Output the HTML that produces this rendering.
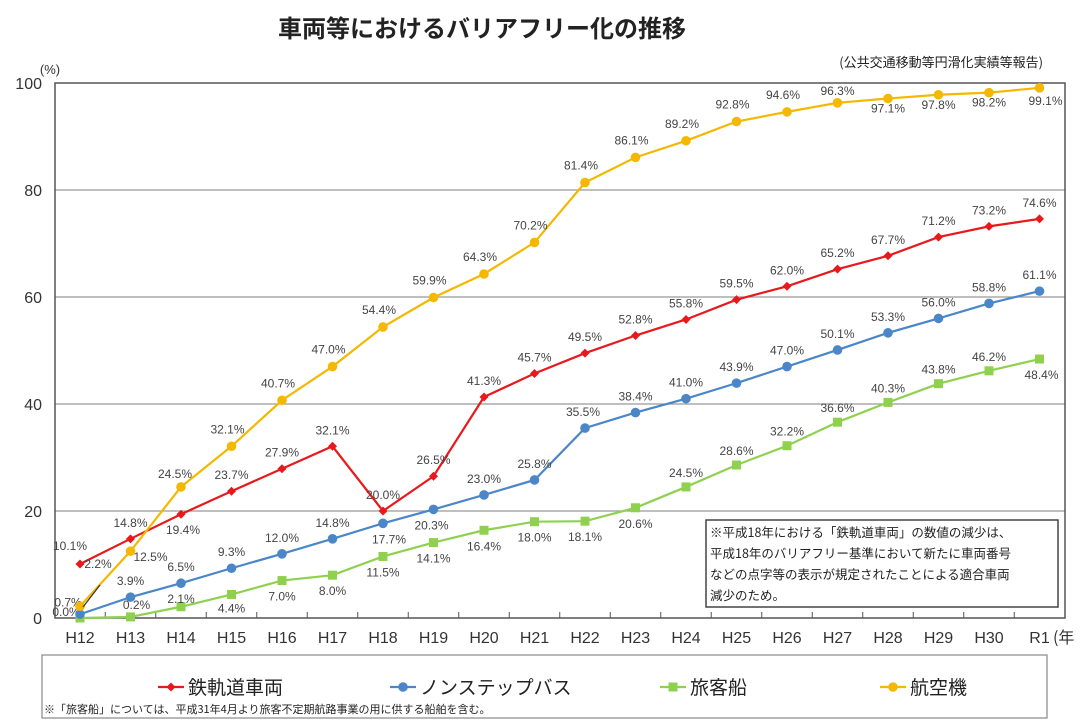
<!DOCTYPE html>
<html><head><meta charset="utf-8">
<style>
body{margin:0;background:#fff;}
svg{display:block;font-family:"Liberation Sans","Noto Sans CJK JP",sans-serif;}
</style></head>
<body>
<svg id="chart" width="1080" height="727" viewBox="0 0 1080 727">
<text x="482" y="37" font-size="24" font-weight="bold" text-anchor="middle" fill="#222" font-family="'Noto Sans CJK JP',sans-serif">車両等におけるバリアフリー化の推移</text>
<text x="1043" y="67" font-size="13" text-anchor="end" fill="#222" font-family="'Noto Sans CJK JP',sans-serif">(公共交通移動等円滑化実績等報告)</text>
<text x="50" y="74" font-size="13" text-anchor="middle" fill="#333">(%)</text>
<g id="grid"></g>
<rect x="55" y="83" width="1010" height="535" fill="none" stroke="#555" stroke-width="1.5"/>
<g id="series"></g>
<g>
<rect x="706" y="520" width="352" height="87" fill="#fff" stroke="#444" stroke-width="1.5"/>
<g font-size="12.5" fill="#222" font-family="'Noto Sans CJK JP',sans-serif">
<text x="710" y="537">※平成18年における「鉄軌道車両」の数値の減少は、</text>
<text x="710" y="558">平成18年のバリアフリー基準において新たに車両番号</text>
<text x="710" y="579">などの点字等の表示が規定されたことによる適合車両</text>
<text x="710" y="600">減少のため。</text>
</g></g>
<text x="1053" y="643" font-size="16" fill="#333" font-family="'Noto Sans CJK JP',sans-serif">(年</text>
<g>
<rect x="42" y="655" width="1005" height="63" fill="#fff" stroke="#888" stroke-width="1.2"/>
<g id="legend-items"></g>
<text x="44" y="713" font-size="11" fill="#222" font-family="'Noto Sans CJK JP',sans-serif">※「旅客船」については、平成31年4月より旅客不定期航路事業の用に供する船舶を含む。</text>
</g>
</svg>
<script>
const categories=["H12","H13","H14","H15","H16","H17","H18","H19","H20","H21","H22","H23","H24","H25","H26","H27","H28","H29","H30","R1"];
const railValues=[10.1,14.8,19.4,23.7,27.9,32.1,20.0,26.5,41.3,45.7,49.5,52.8,55.8,59.5,62.0,65.2,67.7,71.2,73.2,74.6];
const busValues=[0.7,3.9,6.5,9.3,12.0,14.8,17.7,20.3,23.0,25.8,35.5,38.4,41.0,43.9,47.0,50.1,53.3,56.0,58.8,61.1];
const shipValues=[0.0,0.2,2.1,4.4,7.0,8.0,11.5,14.1,16.4,18.0,18.1,20.6,24.5,28.6,32.2,36.6,40.3,43.8,46.2,48.4];
const airValues=[2.2,12.5,24.5,32.1,40.7,47.0,54.4,59.9,64.3,70.2,81.4,86.1,89.2,92.8,94.6,96.3,97.1,97.8,98.2,99.1];
const yTicks=[0,20,40,60,80,100];
const seriesNames=["鉄軌道車両","ノンステップバス","旅客船","航空機"];

const NS="http://www.w3.org/2000/svg";
const svg=document.getElementById('chart');
const x=i=>80+i*50.5;
const y=v=>618-v*5.35;
function mk(tag,attrs,parent){const e=document.createElementNS(NS,tag);for(const k in attrs)e.setAttribute(k,attrs[k]);parent.appendChild(e);return e;}

const grid=document.getElementById('grid');
yTicks.forEach(t=>{
  if(t>0&&t<100){const l=mk('line',{x1:55,x2:1065,y1:y(t),y2:y(t),stroke:'#999','stroke-width':1.2},grid);
  
  }
  const tx=mk('text',{x:42,y:y(t)+6,'font-size':16,'text-anchor':'end',fill:'#333'},grid);
  tx.textContent=t;
  
  
});
categories.forEach((c,i)=>{
  if(i>0){mk('line',{x1:x(i)-25.25,x2:x(i)-25.25,y1:618,y2:612,stroke:'#555'},grid);}
  const tx=mk('text',{x:x(i),y:643,'font-size':16,'text-anchor':'middle',fill:'#333'},grid);
  tx.textContent=c;
  
  
});

const g=document.getElementById('series');
const defs=[
 {key:'ship',vals:shipValues,color:'#8fd14f',marker:'square',dx:0,dy:20},
 {key:'bus',vals:busValues,color:'#4a86c8',marker:'circle',dx:0,dy:-12},
 {key:'rail',vals:railValues,color:'#e8191c',marker:'diamond',dx:0,dy:-12},
 {key:'air',vals:airValues,color:'#f5b800',marker:'circle',dx:-4,dy:-13}
];
const overrides={
 'rail-0':[-10,-14],'rail-6':[0,-12],'rail-2':[2,20],
 'bus-0':[-12,-8],'bus-10':[-2,-12],'bus-6':[6,20],'bus-7':[-2,20],
 'ship-0':[-14,-2],'ship-1':[6,-8],'ship-2':[0,-4],'ship-3':[0,18],'ship-12':[0,-10],'ship-13':[0,-10],'ship-14':[0,-10],'ship-15':[0,-10],'ship-16':[0,-10],'ship-17':[0,-10],'ship-18':[0,-10],'ship-19':[2,20],
 'air-0':[18,-38],'air-1':[20,10],'air-2':[-6,-9],'air-19':[6,17],'air-18':[0,14],'air-17':[0,14],'air-16':[0,14],'air-15':[0,-8]
};
defs.forEach(d=>{
  const grp=mk('g',{},g);
  
  
  const pts=d.vals.map((v,i)=>x(i)+','+y(v)).join(' ');
  const pl=mk('polyline',{points:pts,fill:'none',stroke:d.color,'stroke-width':2.2},grp);
  
  
  d.vals.forEach((v,i)=>{
    const cx=x(i),cy=y(v);let m;
    if(d.marker==='square')m=mk('rect',{x:cx-4.5,y:cy-4.5,width:9,height:9,fill:d.color},grp);
    else if(d.marker==='circle')m=mk('circle',{cx:cx,cy:cy,r:4.8,fill:d.color},grp);
    else m=mk('polygon',{points:`${cx},${cy-4.5} ${cx+4.5},${cy} ${cx},${cy+4.5} ${cx-4.5},${cy}`,fill:d.color},grp);
    
    
    const o=overrides[d.key+'-'+i]||[d.dx,d.dy];
    const t=mk('text',{x:cx+o[0],y:cy+o[1],'font-size':12,'text-anchor':'middle',fill:'#444'},grp);
    t.textContent=v.toFixed(1)+'%';
    
    
  });
});
const ar=mk('line',{x1:100,y1:585,x2:83,y2:607,stroke:'#333','stroke-width':1.2},g);



const li=document.getElementById('legend-items');
const lx=[158,390,660,880];
[0,1,2,3].forEach(k=>{
  const d=[defs[2],defs[1],defs[0],defs[3]][k];
  const grp=mk('g',{},li);
  
  
  const X=lx[k],Y=687;
  mk('line',{x1:X,x2:X+26,y1:Y,y2:Y,stroke:d.color,'stroke-width':2.2},grp);
  if(d.marker==='square')mk('rect',{x:X+8.5,y:Y-4.5,width:9,height:9,fill:d.color},grp);
  else if(d.marker==='circle')mk('circle',{cx:X+13,cy:Y,r:4.8,fill:d.color},grp);
  else mk('polygon',{points:`${X+13},${Y-4.5} ${X+17.5},${Y} ${X+13},${Y+4.5} ${X+8.5},${Y}`,fill:d.color},grp);
  const t=mk('text',{x:X+30,y:Y+7,'font-size':19,fill:'#222','font-family':"'Noto Sans CJK JP',sans-serif"},grp);
  t.textContent=seriesNames[k];
});
</script>
</body></html>
